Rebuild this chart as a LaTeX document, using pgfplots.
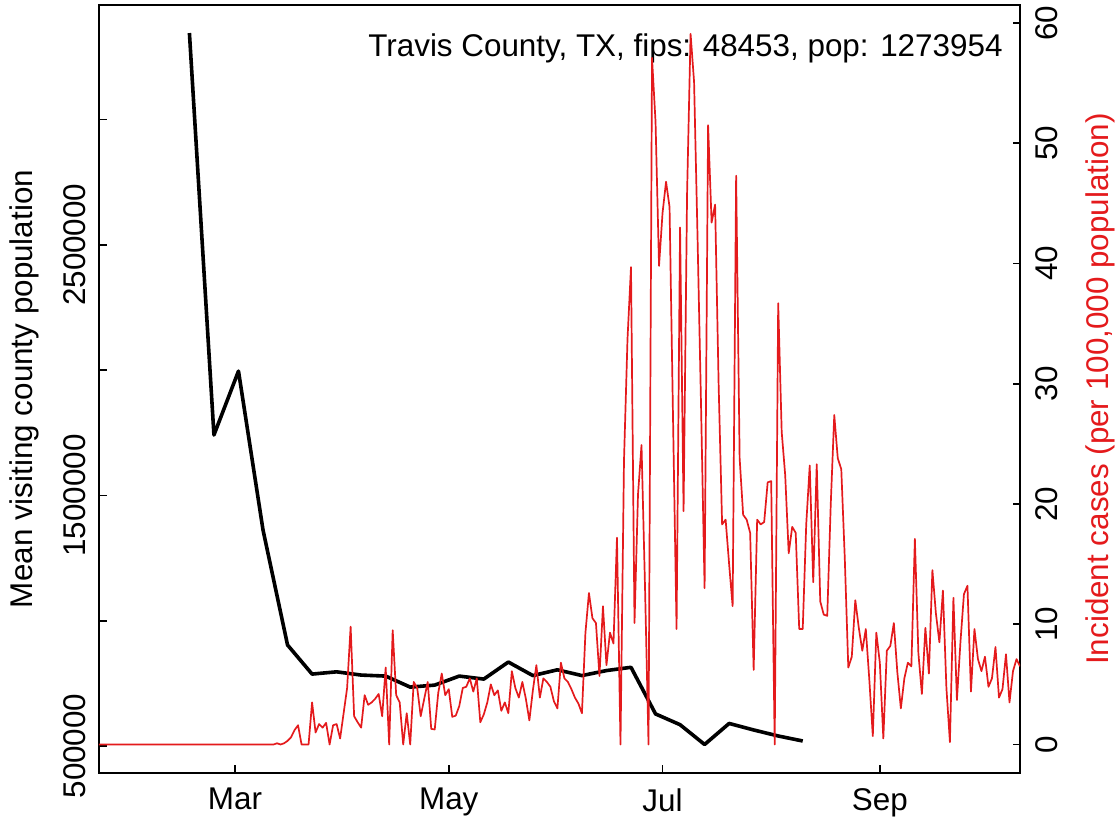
\documentclass[border=0pt]{standalone}
\usepackage{pgfplots}
\pgfplotsset{compat=1.18}
\usepackage{fontspec}
\setmainfont{Liberation Sans}
\definecolor{rred}{HTML}{E41A1C}
\begin{document}
\fontsize{15.7}{18}\selectfont
\begin{tikzpicture}
\begin{axis}[
  name=ax, at={(0,0)}, anchor=south west,
  scale only axis, width=460.5pt, height=384pt,
  xmin=21.2, xmax=284, ymin=392300, ymax=3456900,
  axis line style={line width=0.85pt},
  every tick/.style={black, line width=0.85pt},
  tick align=inside, major tick length=3.75pt,
  xtick pos=left, ytick pos=left,
  xtick={60,121,182,244}, xticklabels={Mar,May,Jul,Sep},
  ytick={500000,1000000,1500000,2000000,2500000,3000000},
  yticklabels={500000,,1500000,,2500000,},
  scaled y ticks=false, scaled x ticks=false,
  xticklabel style={anchor=north, inner ysep=7.5pt, inner xsep=0pt},
  yticklabel style={rotate=90, anchor=south, inner ysep=6.25pt, inner xsep=0pt},
  clip=true,
]
\addplot[black, line width=1.8pt, line join=round] coordinates {
(47,3345000) (54,1741000) (61,1996000) (68,1362000) (75,903000) (82,787000)
(89,796000) (96,783000) (103,779000) (110,735000) (117,743000) (124,779000)
(131,767000) (138,835000) (145,781000) (152,804000) (159,781000) (166,801000)
(173,814000) (180,628000) (187,585000) (194,506000) (201,590000) (208,564000)
(215,540000) (222,520000)
};
\node[anchor=base east, inner sep=0pt] at (rel axis cs:0.9815,0.9323) {Travis County, TX, fips: 48453, pop: 1273954};
\end{axis}
\begin{axis}[
  at={(0,0)}, anchor=south west,
  scale only axis, width=460.5pt, height=384pt,
  xmin=21.2, xmax=284, ymin=-2.37, ymax=61.5,
  axis x line=none, axis y line*=right,
  axis line style={line width=0.85pt},
  every tick/.style={black, line width=0.85pt},
  tick align=inside, major tick length=3.75pt,
  ytick={0,10,20,30,40,50,60}, yticklabels={0,10,20,30,40,50,60},
  yticklabel style={rotate=90, anchor=north, inner ysep=7.5pt, inner xsep=0pt},
  clip=true,
]
\addplot[rred, line width=0.85pt, line join=round] coordinates {
(20,0) (71,0) (72,0.1) (73,0) (74,0.1) (75,0.3) (76,0.6) (77,1.2) (78,1.6) (79,0) (80,0) (81,0)
(82,3.5) (83,1.0) (84,1.7) (85,1.4) (86,1.8) (87,0) (88,1.6) (89,1.7) (90,0.5) (91,2.6)
(92,4.7) (93,9.8) (94,2.35) (95,1.85) (96,1.4) (97,4.1) (98,3.3) (99,3.5) (100,3.8) (101,4.2)
(102,2.35) (103,6.4) (104,0) (105,9.5) (106,4.1) (107,3.5) (108,0) (109,2.6) (110,0) (111,5.2)
(112,4.7) (113,2.35) (114,3.8) (115,5.2) (116,1.3) (117,1.25) (118,4.3) (119,5.9) (120,4.1)
(121,4.6) (122,2.3) (123,2.4) (124,3.2) (125,4.7) (126,4.8) (127,5.5) (128,4.4) (129,5.5)
(130,1.85) (131,2.5) (132,3.5) (133,5.0) (134,4.1) (135,4.5) (136,2.8) (137,3.5) (138,2.6)
(139,6.1) (140,4.7) (141,3.9) (142,5.2) (143,3.8) (144,2.0) (145,4.5) (146,6.6) (147,3.9)
(148,5.5) (149,5.2) (150,4.8) (151,3.6) (152,3.0) (153,6.8) (154,5.5) (155,5.2) (156,4.6)
(157,3.9) (158,3.4) (159,2.6) (160,9.3) (161,12.6) (162,10.5) (163,10.1) (164,5.7) (165,11.5)
(166,6.6) (167,9.3) (168,8.4) (169,17.2) (170,0) (171,23.6) (172,33.7) (173,39.7) (174,10.1)
(175,20.8) (176,24.9) (177,13.1) (178,0) (179,57.1) (180,51.8) (181,39.8) (182,44.2) (183,46.8)
(184,44.7) (185,27) (186,9.6) (187,43.0) (188,19.4) (189,45.8) (190,59.1) (191,55.1) (192,42)
(193,28) (194,13.0) (195,51.5) (196,43.4) (197,44.9) (198,30) (199,18.3) (200,18.7) (201,15)
(202,11.5) (203,47.3) (204,23.8) (205,19.1) (206,18.7) (207,17.6) (208,6.2) (209,18.7) (210,18.3)
(211,18.5) (212,21.8) (213,21.9) (214,0) (215,36.7) (216,26.0) (217,22.4) (218,15.9) (219,18.1)
(220,17.6) (221,9.6) (222,9.6) (223,18.3) (224,23.2) (225,13.5) (226,23.3) (227,11.9) (228,10.8)
(229,10.7) (230,20.0) (231,27.4) (232,23.8) (233,22.9) (234,15.5) (235,6.4) (236,7.3) (237,12.0)
(238,9.7) (239,7.8) (240,9.6) (241,5.4) (242,0.7) (243,9.3) (244,6.8) (245,0.5) (246,7.8)
(247,8.2) (248,10.1) (249,6.0) (250,3.0) (251,5.5) (252,6.8) (253,6.5) (254,17.1) (255,7.6)
(256,4.2) (257,9.7) (258,5.9) (259,14.5) (260,10.9) (261,8.5) (262,12.8) (263,4.7) (264,0.2)
(265,12.2) (266,3.7) (267,8.5) (268,12.5) (269,13.2) (270,4.4) (271,9.6) (272,7.1) (273,6.1)
(274,7.3) (275,4.8) (276,5.5) (277,8.1) (278,3.9) (279,4.6) (280,7.5) (281,3.5) (282,6.1)
(283,7.1) (284,6.5)
};
\end{axis}
\node[rotate=90, anchor=base, inner sep=0pt] at (-33pt,192pt) {Mean visiting county population};
\node[rotate=90, anchor=base, inner sep=0pt, text=rred] at (504.5pt,192pt) {Incident cases (per 100,000 population)};
\pgfresetboundingbox
\path[use as bounding box] (-49.5pt,-24.5pt) rectangle (510pt,386.5pt);
\end{tikzpicture}
\end{document}
